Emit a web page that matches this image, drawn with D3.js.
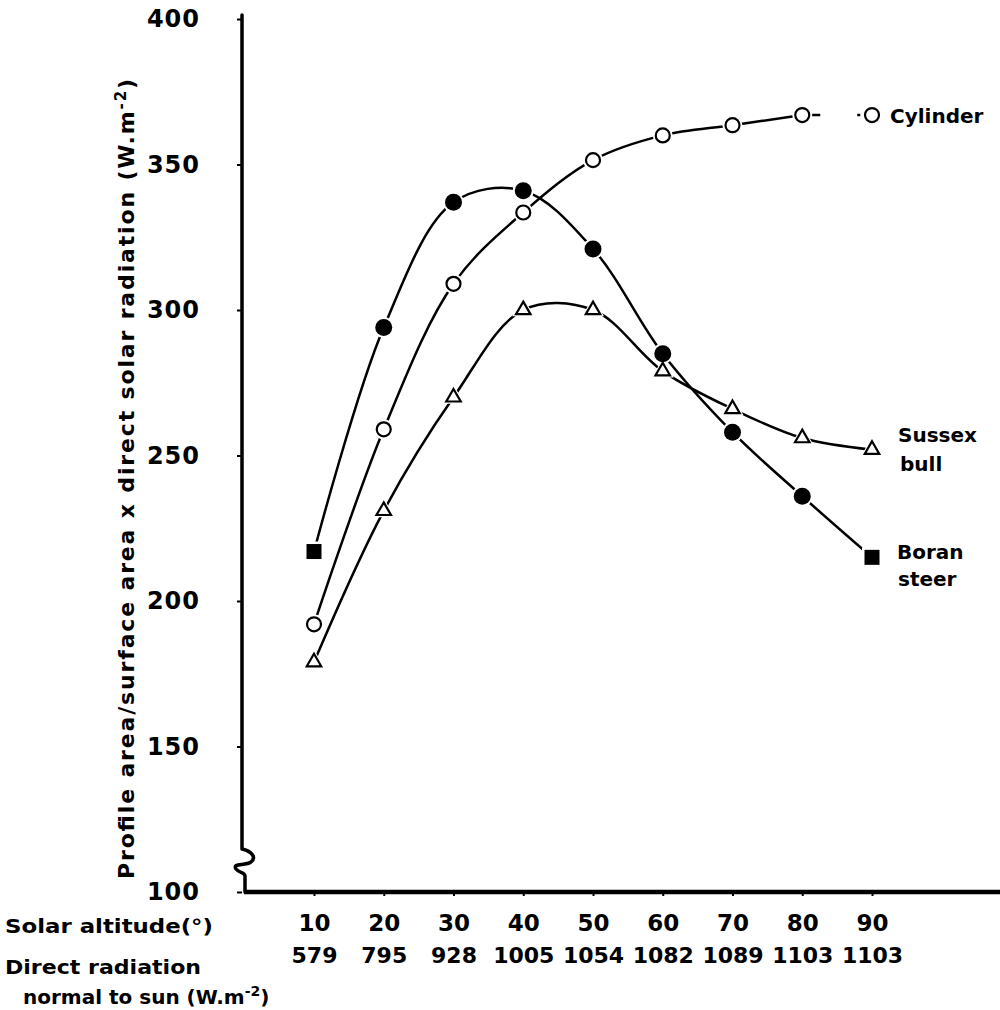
<!DOCTYPE html>
<html>
<head>
<meta charset="utf-8">
<script src="https://cdn.jsdelivr.net/npm/d3@7"></script>
<style>
  html, body { margin: 0; padding: 0; background: #fff; }
  svg { display: block; }
  text { font-family: "DejaVu Sans", sans-serif; font-weight: bold; fill: #000; }
</style>
</head>
<body>
<svg id="chart" width="1000" height="1010"></svg>
<script>
// Solar altitude (degrees) and direct radiation normal to the sun (W.m-2)
const solarAltitude = [10, 20, 30, 40, 50, 60, 70, 80, 90];
const directRadiation = [579, 795, 928, 1005, 1054, 1082, 1089, 1103, 1103];

// Profile area / surface area x direct solar radiation (W.m-2)
const cylinder   = [192, 259, 309, 333.5, 351.5, 360, 363.5, 367, 367];
const boranSteer = [217, 294, 337, 341, 321, 285, 258, 236, 215];
const sussexBull = [179, 231, 270, 300, 300, 279, 266, 256, 252];

const yTicks = [100, 150, 200, 250, 300, 350, 400];

const svg = d3.select("#chart");

const x = d3.scaleLinear().domain([10, 90]).range([314, 872]);
const y = d3.scaleLinear().domain([100, 400]).range([892, 19]);

// ---- axes ----
const yAxis = d3.axisLeft(y).tickValues(yTicks).tickSize(5).tickPadding(37)
  .tickFormat(d3.format("d"));
const gy = svg.append("g").attr("transform", "translate(242,0)").call(yAxis);
gy.select(".domain").remove();
gy.selectAll(".tick line").attr("stroke", "#000").attr("stroke-width", 2);
gy.selectAll(".tick text").style("font-size", "24px").style("letter-spacing", "1px")
  .attr("font-family", null).attr("font-size", null);

// vertical axis with the scale break near its foot
svg.append("path")
  .attr("d", "M242,15 V849 C251,851 257,857 251,862 C245,866 232,863 236,869 C239,873 245,872 245,876 V892")
  .attr("fill", "none").attr("stroke", "#000").attr("stroke-width", 3.5)
  .attr("stroke-linejoin", "round").attr("stroke-linecap", "round");

// horizontal axis
svg.append("line").attr("x1", 244).attr("x2", 1000).attr("y1", 892).attr("y2", 892)
  .attr("stroke", "#000").attr("stroke-width", 4.5);

const xAxisTop = d3.axisBottom(x).tickValues(solarAltitude).tickSize(4).tickPadding(19)
  .tickFormat(d3.format("d"));
const gx = svg.append("g").attr("transform", "translate(0,892)").call(xAxisTop);
gx.select(".domain").remove();
gx.selectAll(".tick line").attr("stroke", "#000").attr("stroke-width", 2);
gx.selectAll(".tick text").style("font-size", "23px").attr("font-family", null).attr("font-size", null);

const xAxisRad = d3.axisBottom(x).tickValues(solarAltitude).tickSize(0).tickPadding(55)
  .tickFormat((d, i) => String(directRadiation[i]));
const gx2 = svg.append("g").attr("transform", "translate(0,892)").call(xAxisRad);
gx2.select(".domain").remove();
gx2.selectAll(".tick text").style("font-size", "22px").attr("font-family", null).attr("font-size", null);

// axis captions on the left
svg.append("text").attr("x", 5).attr("y", 933).style("font-size", "20px")
  .attr("textLength", 208).attr("lengthAdjust", "spacingAndGlyphs")
  .text("Solar altitude(°)");
svg.append("text").attr("x", 5).attr("y", 974).style("font-size", "20px")
  .attr("textLength", 196).attr("lengthAdjust", "spacingAndGlyphs")
  .text("Direct radiation");
const cap3 = svg.append("text").attr("x", 23).attr("y", 1004).style("font-size", "20px");
cap3.append("tspan").text("normal to sun (W.m");
cap3.append("tspan").attr("dy", -8).style("font-size", "14px").text("-2");
cap3.append("tspan").attr("dy", 8).text(")");

// rotated y-axis title
const yt = svg.append("text")
  .attr("transform", "translate(134,479) rotate(-90)")
  .attr("text-anchor", "middle").style("font-size", "22px")
  .attr("textLength", 800).attr("lengthAdjust", "spacing");
yt.append("tspan").text("Profile area/surface area x direct solar radiation (W.m");
yt.append("tspan").attr("dy", -8).style("font-size", "15px").text("-2");
yt.append("tspan").attr("dy", 8).text(")");

// ---- series lines ----
const line = d3.line().x(d => x(d[0])).y(d => y(d[1])).curve(d3.curveCatmullRom.alpha(0.5));
const pairs = arr => solarAltitude.map((a, i) => [a, arr[i]]);

const lineStyle = sel => sel.attr("fill", "none").attr("stroke", "#000")
  .attr("stroke-width", 2.5).attr("stroke-linecap", "round");

svg.append("path").datum(pairs(boranSteer)).attr("d", line).call(lineStyle);
svg.append("path").datum(pairs(sussexBull)).attr("d", line).call(lineStyle);
svg.append("path").datum(pairs(cylinder).slice(0, 8)).attr("d", line).call(lineStyle);
// last cylinder segment is only partly drawn
svg.append("path").datum(pairs(cylinder).slice(7)).attr("d", d3.line().x(d => x(d[0])).y(d => y(d[1])))
  .call(lineStyle).attr("stroke-dasharray", "18 37 3 200").attr("stroke-linecap", "butt");

// ---- markers ----
const triPath = (s) => {
  const h = s * Math.sqrt(3) / 2;
  return `M0,${-2 * h / 3} L${s / 2},${h / 3} L${-s / 2},${h / 3} Z`;
};

// white halos so that the lines stop short of the markers
const halo = svg.append("g");
const marks = svg.append("g");

solarAltitude.forEach((a, i) => {
  // Sussex bull: open triangles
  halo.append("path").attr("d", triPath(22)).attr("fill", "#fff")
    .attr("transform", `translate(${x(a)},${y(sussexBull[i])})`);
  marks.append("path").attr("d", triPath(14.5)).attr("fill", "#fff").attr("stroke", "#000")
    .attr("stroke-width", 2.2).attr("stroke-linejoin", "miter")
    .attr("transform", `translate(${x(a)},${y(sussexBull[i])})`);

  // Cylinder: open circles
  halo.append("circle").attr("cx", x(a)).attr("cy", y(cylinder[i])).attr("r", 10).attr("fill", "#fff");
  marks.append("circle").attr("cx", x(a)).attr("cy", y(cylinder[i])).attr("r", 7)
    .attr("fill", "#fff").attr("stroke", "#000").attr("stroke-width", 2.2);

  // Boran steer: filled circles, squares at both ends
  const end = (i === 0 || i === solarAltitude.length - 1);
  if (end) {
    halo.append("rect").attr("x", x(a) - 10).attr("y", y(boranSteer[i]) - 10)
      .attr("width", 20).attr("height", 20).attr("fill", "#fff");
    marks.append("rect").attr("x", x(a) - 7.5).attr("y", y(boranSteer[i]) - 7.5)
      .attr("width", 15).attr("height", 15).attr("fill", "#000");
  } else {
    halo.append("circle").attr("cx", x(a)).attr("cy", y(boranSteer[i])).attr("r", 10.5).attr("fill", "#fff");
    marks.append("circle").attr("cx", x(a)).attr("cy", y(boranSteer[i])).attr("r", 8.5).attr("fill", "#000");
  }
});

// ---- series labels ----
const last = solarAltitude.length - 1;
svg.append("text").attr("x", 890).attr("y", y(cylinder[last]) + 8)
  .style("font-size", "20px").text("Cylinder");
svg.append("text").attr("x", 898).attr("y", y(sussexBull[last]) - 8)
  .style("font-size", "20px").text("Sussex");
svg.append("text").attr("x", 900).attr("y", y(sussexBull[last]) + 21)
  .style("font-size", "20px").text("bull");
svg.append("text").attr("x", 897).attr("y", y(boranSteer[last]) + 2)
  .style("font-size", "20px").text("Boran");
svg.append("text").attr("x", 898).attr("y", y(boranSteer[last]) + 29)
  .style("font-size", "20px").text("steer");
</script>
</body>
</html>
